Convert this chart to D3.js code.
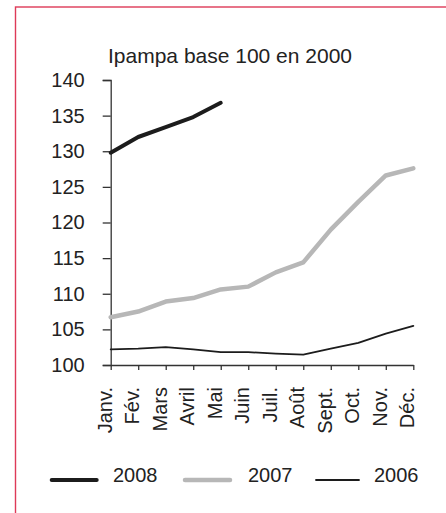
<!DOCTYPE html>
<html>
<head>
<meta charset="utf-8">
<script src="https://cdn.jsdelivr.net/npm/d3@7"></script>
<style>
  html, body { margin: 0; padding: 0; background: #fff; }
  svg text { font-family: "Liberation Sans", Arial, sans-serif; fill: #222; }
</style>
</head>
<body>
<div id="chart"></div>
<script>
// mois (axe X)
const months = ['Janv.', 'Fév.', 'Mars', 'Avril', 'Mai', 'Juin', 'Juil.', 'Août', 'Sept.', 'Oct.', 'Nov.', 'Déc.'];
// indice Ipampa, base 100 en 2000
const values2008 = [129.8, 132.0, 133.4, 134.8, 136.8];
const values2007 = [106.7, 107.5, 108.9, 109.4, 110.6, 111.0, 113.0, 114.4, 119.0, 122.9, 126.6, 127.6];
const values2006 = [102.2, 102.3, 102.5, 102.2, 101.8, 101.8, 101.6, 101.45, 102.3, 103.1, 104.4, 105.5];
const yTicks = [100, 105, 110, 115, 120, 125, 130, 135, 140];
const title = 'Ipampa base 100 en 2000';

const series = [
    {name: '2008', values: values2008, color: '#1c1c1c', width: 4},
    {name: '2007', values: values2007, color: '#b7b7b7', width: 4.5},
    {name: '2006', values: values2006, color: '#1c1c1c', width: 1.8}
];

const width = 446, height = 513;
const bound = {left: 110.7, right: 413.3, top: 80, bottom: 365};

const svg = d3.select('#chart')
    .append('svg')
    .attr('width', width)
    .attr('height', height);

// cadre rouge
svg.append('rect')
    .attr('x', 15.5)
    .attr('y', 7)
    .attr('width', width)
    .attr('height', height)
    .attr('fill', 'none')
    .attr('stroke', '#de3a58')
    .attr('stroke-width', 1.4);

const x = d3.scalePoint().domain(months).range([bound.left, bound.right]);
const y = d3.scaleLinear().domain([100, 140]).range([bound.bottom, bound.top]);

svg.append('text')
    .attr('x', 108)
    .attr('y', 63)
    .style('font-size', '21px')
    .text(title);

// axe Y
const yAxis = svg.append('g')
    .attr('transform', `translate(${bound.left},0)`)
    .call(d3.axisLeft(y).tickValues(yTicks).tickSize(8).tickPadding(18).tickFormat(d3.format('d')));
yAxis.selectAll('text').style('font-size', '20px');

// axe X
const xAxis = svg.append('g')
    .attr('transform', `translate(0,${bound.bottom})`)
    .call(d3.axisBottom(x).tickSize(5).tickSizeOuter(0));
xAxis.selectAll('text')
    .style('font-size', '20px')
    .attr('text-anchor', 'end')
    .attr('transform', 'rotate(-90)')
    .attr('x', -22)
    .attr('y', 0)
    .attr('dy', '0.02em');

svg.selectAll('.domain, .tick line')
    .attr('stroke', '#333')
    .attr('stroke-width', 1.3);

const line = d3.line()
    .x((d, i) => x(months[i]))
    .y(d => y(d));

svg.append('g')
    .selectAll('path')
    .data(series.slice().reverse())
    .join('path')
    .attr('d', d => line(d.values))
    .attr('fill', 'none')
    .attr('stroke', d => d.color)
    .attr('stroke-width', d => d.width)
    .attr('stroke-linejoin', 'round')
    .attr('stroke-linecap', 'round');

// légende
const legendPos = [{line: [51.7, 96.7], text: 113}, {line: [185, 230], text: 248}, {line: [316, 359], text: 374}];
const legend = svg.append('g')
    .selectAll('g')
    .data(series)
    .join('g');
legend.append('line')
    .attr('x1', (d, i) => legendPos[i].line[0])
    .attr('x2', (d, i) => legendPos[i].line[1])
    .attr('y1', 480)
    .attr('y2', 480)
    .attr('stroke', d => d.color)
    .attr('stroke-width', d => d.width)
    .attr('stroke-linecap', 'round');
legend.append('text')
    .attr('x', (d, i) => legendPos[i].text)
    .attr('y', 481.5)
    .style('font-size', '20px')
    .text(d => d.name);
</script>
</body>
</html>
